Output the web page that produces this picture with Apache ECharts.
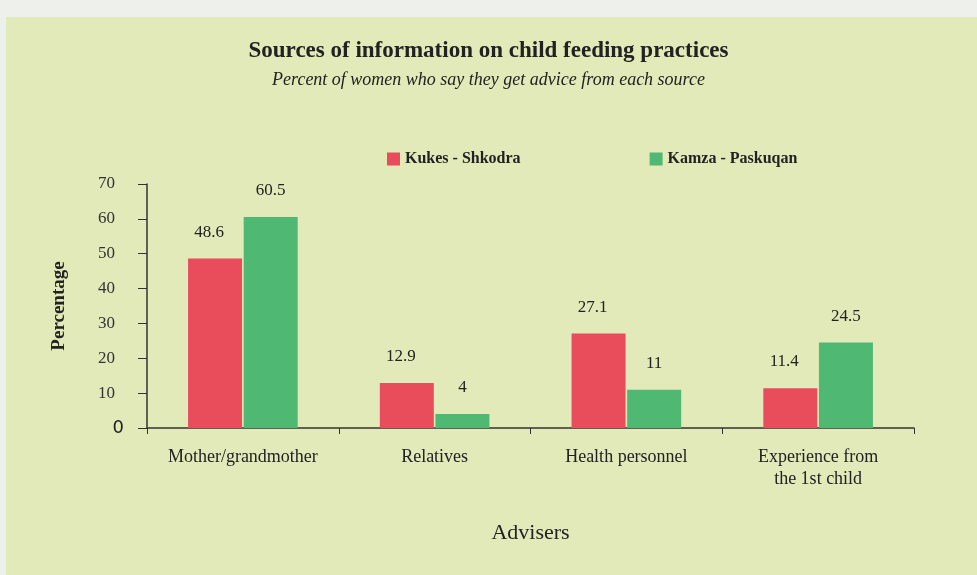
<!DOCTYPE html>
<html>
<head>
<meta charset="utf-8">
<script src="https://cdn.jsdelivr.net/npm/echarts@6/dist/echarts.min.js"></script>
<style>
  html, body { margin: 0; padding: 0; background: #eef0ec; }
  #chart { width: 977px; height: 575px; }
</style>
</head>
<body>
<div id="chart"></div>
<script>
const categories = ['Mother/grandmother', 'Relatives', 'Health personnel', 'Experience from\nthe 1st child'];
const kukesShkodra = [48.6, 12.9, 27.1, 11.4];
const kamzaPaskuqan = [60.5, 4, 11, 24.5];
const yTicks = [0, 10, 20, 30, 40, 50, 60, 70];

const serif = '"Liberation Serif", "DejaVu Serif", serif';
const ink = '#222';

const chart = echarts.init(document.getElementById('chart'));

const barLabel = (dx) => ({
  show: true,
  position: 'top',
  distance: 18,
  offset: [dx, 0],
  color: ink,
  fontFamily: serif,
  fontSize: 17
});

chart.setOption({
  backgroundColor: 'transparent',
  animation: false,
  graphic: [{
    type: 'rect',
    z: -10,
    shape: { x: 6, y: 17, width: 977, height: 575 },
    style: { fill: '#e3eab9' }
  }],
  title: {
    text: 'Sources of information on child feeding practices',
    subtext: 'Percent of women who say they get advice from each source',
    left: 'center',
    top: 35,
    itemGap: 8,
    textStyle: { fontFamily: serif, fontWeight: 'bold', fontSize: 23, color: ink },
    subtextStyle: { fontFamily: serif, fontStyle: 'italic', fontSize: 18, color: ink }
  },
  legend: {
    left: 382,
    top: 146,
    itemWidth: 13,
    itemHeight: 13,
    itemGap: 129,
    icon: 'rect',
    textStyle: { fontFamily: serif, fontWeight: 'bold', fontSize: 16, color: ink },
    data: ['Kukes - Shkodra', 'Kamza - Paskuqan']
  },
  grid: { left: 147, right: 63, top: 184, bottom: 147 },
  xAxis: {
    type: 'category',
    data: categories,
    name: 'Advisers',
    nameLocation: 'middle',
    nameGap: 94,
    nameTextStyle: { fontFamily: serif, fontSize: 22, color: ink },
    axisLine: { lineStyle: { color: '#333', width: 1.5 } },
    axisTick: { show: true, interval: 0, alignWithLabel: false, length: 6, lineStyle: { color: '#333' } },
    axisLabel: { interval: 0, margin: 18, fontFamily: serif, fontSize: 18, color: ink, lineHeight: 22 }
  },
  yAxis: {
    type: 'value',
    min: yTicks[0],
    max: yTicks[yTicks.length - 1],
    interval: 10,
    name: 'Percentage',
    nameLocation: 'middle',
    nameGap: 78,
    nameTextStyle: { fontFamily: serif, fontWeight: 'bold', fontSize: 19, color: ink },
    splitLine: { show: false },
    axisLine: { show: true, lineStyle: { color: '#333', width: 1.5 } },
    axisTick: { show: true, length: 9, lineStyle: { color: '#333' } },
    axisLabel: {
      margin: 23,
      formatter: (v) => v === 0 ? '{z|0}' : '{n|' + v + '}',
      rich: {
        z: { fontFamily: '"DejaVu Sans", sans-serif', fontSize: 18, color: ink },
        n: { fontFamily: serif, fontSize: 17, color: '#333', padding: [0, 9, 0, 0] }
      }
    }
  },
  series: [
    {
      name: 'Kukes - Shkodra',
      type: 'bar',
      data: kukesShkodra,
      barWidth: 54,
      barGap: '3%',
      itemStyle: { color: '#e94d5c' },
      label: barLabel(-6)
    },
    {
      name: 'Kamza - Paskuqan',
      type: 'bar',
      data: kamzaPaskuqan,
      barWidth: 54,
      itemStyle: { color: '#4fb873' },
      label: barLabel(0)
    }
  ]
});
</script>
</body>
</html>
